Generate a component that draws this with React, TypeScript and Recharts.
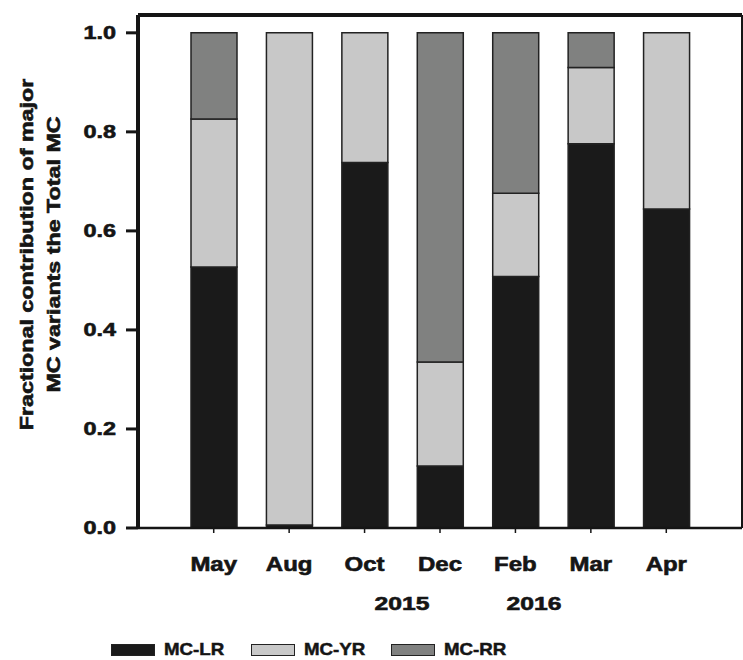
import React from "react";
import { BarChart, Bar, XAxis, YAxis, Label } from "recharts";

const MONTHS = ["May", "Aug", "Oct", "Dec", "Feb", "Mar", "Apr"];
const MC_LR = [0.527, 0.006, 0.738, 0.125, 0.508, 0.776, 0.644];
const MC_YR = [0.299, 0.994, 0.262, 0.21, 0.168, 0.154, 0.356];
const MC_RR = [0.174, 0, 0, 0.665, 0.324, 0.07, 0];
const Y_TICKS = [0, 0.2, 0.4, 0.6, 0.8, 1.0];
const YEARS = ["2015", "2016"];

const SERIES = [
  { key: "lr", name: "MC-LR", fill: "#1a1a1a" },
  { key: "yr", name: "MC-YR", fill: "#c8c8c8" },
  { key: "rr", name: "MC-RR", fill: "#808180" },
];

const FONT = "'Liberation Sans', Arial, sans-serif";
const INK = "#151515";

const rows = MONTHS.map((m, i) => ({ month: m, lr: MC_LR[i], yr: MC_YR[i], rr: MC_RR[i] }));

// heavier strokes on the labels so the bold face reads like a black weight
const heavy = { stroke: INK, strokeWidth: 0.6 };

const YTick = ({ x, y, payload }: any) => (
  <text
    transform={`translate(${x},${y}) scale(1.3,1)`}
    textAnchor="end"
    dy="0.36em"
    fontFamily={FONT}
    fontWeight="bold"
    fontSize={18}
    fill={INK}
    {...heavy}
  >
    {Number(payload.value).toFixed(1)}
  </text>
);

const XTick = ({ x, y, payload }: any) => (
  <text
    transform={`translate(${x},${y}) scale(1.2,1)`}
    textAnchor="middle"
    dy={36}
    fontFamily={FONT}
    fontWeight="bold"
    fontSize={20}
    fill={INK}
    {...heavy}
  >
    {payload.value}
  </text>
);

const AxisTitle = ({ viewBox }: any) => {
  const cy = viewBox.y + viewBox.height / 2 - 17;
  const lines = ["Fractional contribution of major", "MC variants the Total MC"];
  return (
    <g>
      {lines.map((t, i) => (
        <text
          key={t}
          transform={`translate(${33 + i * 27},${cy}) rotate(-90) scale(1.33,1)`}
          textAnchor="middle"
          fontFamily={FONT}
          fontWeight="bold"
          fontSize={17.5}
          fill={INK}
          {...heavy}
        >
          {t}
        </text>
      ))}
    </g>
  );
};

export default function App() {
  return (
    <div style={{ position: "absolute", left: 0, top: 0, width: 743, height: 660, background: "#fff" }}>
      <BarChart
        width={743}
        height={660}
        data={rows}
        margin={{ top: 14, right: 0, left: 0, bottom: 82 }}
      >
        <XAxis
          dataKey="month"
          interval={0}
          padding={{ left: 38, right: 38 }}
          height={50}
          tickSize={5}
          tickLine={{ stroke: INK, strokeWidth: 1.5 }}
          axisLine={{ stroke: INK, strokeWidth: 2.5 }}
          tick={<XTick />}
        />
        <XAxis
          xAxisId="top"
          orientation="top"
          dataKey="month"
          height={1}
          tick={false}
          tickLine={false}
          axisLine={{ stroke: INK, strokeWidth: 4 }}
        />
        <YAxis
          domain={[0, 1.036]}
          ticks={Y_TICKS}
          width={138}
          tickSize={12}
          tickMargin={10}
          tickLine={{ stroke: INK, strokeWidth: 3 }}
          axisLine={{ stroke: INK, strokeWidth: 4 }}
          tick={<YTick />}
          allowDataOverflow
        >
          <Label content={<AxisTitle />} />
        </YAxis>
        <YAxis
          yAxisId="right"
          orientation="right"
          domain={[0, 1.036]}
          width={1}
          tick={false}
          tickLine={false}
          axisLine={{ stroke: INK, strokeWidth: 2 }}
        />
        {SERIES.map((s) => (
          <Bar
            key={s.key}
            dataKey={s.key}
            name={s.name}
            stackId="a"
            fill={s.fill}
            stroke="#222"
            strokeWidth={1.5}
            barSize={46}
            isAnimationActive={false}
          />
        ))}
      </BarChart>

      {/* year captions under the month axis */}
      {YEARS.map((yr, i) => (
        <div
          key={yr}
          style={{
            position: "absolute",
            left: i === 0 ? 402 : 534,
            top: 594,
            transform: "translateX(-50%) scaleX(1.3)",
            fontFamily: FONT,
            fontWeight: "bold",
            fontSize: 19,
            color: INK,
            lineHeight: "20px",
            WebkitTextStroke: "0.6px " + INK,
          }}
        >
          {yr}
        </div>
      ))}

      {/* legend */}
      <div style={{ position: "absolute", left: 111, top: 642, display: "flex", alignItems: "center" }}>
        {SERIES.map((s) => (
          <div key={s.key} style={{ display: "flex", alignItems: "center", marginRight: 22 }}>
            <div
              style={{
                width: 42,
                height: 10,
                background: s.fill,
                border: "1.5px solid #222",
                marginRight: 9,
              }}
            />
            <span
              style={{
                display: "inline-block",
                transformOrigin: "left center",
                transform: "scaleX(1.1)",
                fontFamily: FONT,
                fontWeight: "bold",
                fontSize: 17,
                color: INK,
                lineHeight: "16px",
                width: 65,
                WebkitTextStroke: "0.5px " + INK,
              }}
            >
              {s.name}
            </span>
          </div>
        ))}
      </div>
    </div>
  );
}
